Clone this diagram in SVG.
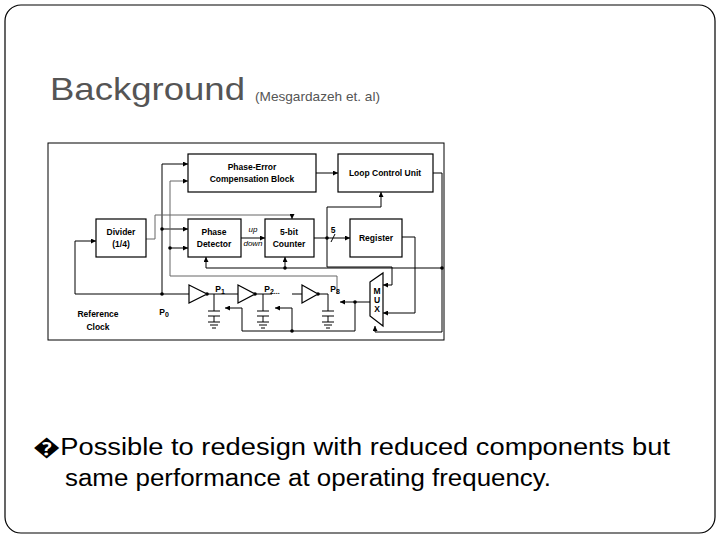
<svg xmlns="http://www.w3.org/2000/svg" width="720" height="540" viewBox="0 0 720 540">
<defs>
<marker id="a" viewBox="0 0 10 10" refX="10" refY="5" markerWidth="5" markerHeight="5" orient="auto"><path d="M0,0L10,5L0,10z" fill="#000"/></marker>
<style>
.b{fill:#fff;stroke:#000;stroke-width:1.2}
.t{font-family:"Liberation Sans",Arial,sans-serif;font-weight:bold;font-size:8.5px;text-anchor:middle}
.l{fill:none;stroke:#000;stroke-width:1}
.g{fill:none;stroke:#666;stroke-width:1}
.ar{marker-end:url(#a)}
</style>
</defs>
<rect x="5" y="5" width="710" height="528" rx="16" fill="#fff" stroke="#000" stroke-width="1.2"/>
<text x="50" y="100" font-family="Liberation Sans,Arial,sans-serif" font-size="32" fill="#555" textLength="195" lengthAdjust="spacingAndGlyphs">Background</text>
<text x="255" y="101" font-family="Liberation Sans,Arial,sans-serif" font-size="13" fill="#555" textLength="125" lengthAdjust="spacingAndGlyphs">(Mesgardazeh et. al)</text>
<text x="33" y="455" font-family="Liberation Sans,Arial,sans-serif" font-size="23" fill="#000" textLength="637" lengthAdjust="spacingAndGlyphs">�Possible to redesign  with reduced components but</text>
<text x="65" y="486" font-family="Liberation Sans,Arial,sans-serif" font-size="23" fill="#000" textLength="486" lengthAdjust="spacingAndGlyphs">same performance at operating frequency.</text>
<rect x="48" y="143" width="396" height="197" fill="#fff" stroke="#000" stroke-width="1"/>
<g id="connectors">
<path class="l ar" d="M75,294V241H96"/>
<path class="l" d="M75,294H189"/>
<path class="l ar" d="M162,294V164H188"/>
<path class="l ar" d="M162,229H188"/>
<path class="g ar" d="M337,294V276H170V181H188"/>
<path class="l ar" d="M170,248H188"/>
<path class="g ar" d="M146,239H155V215H292V219"/>
<path class="l ar" d="M241,238H265"/>
<path class="l ar" d="M316,173H338"/>
<path class="l ar" d="M314,238H350"/>
<path class="l" d="M331,242L335,234"/>
<path class="l ar" d="M327,238V207H381V192"/>
<path class="l ar" d="M327,238V267H392V285H383"/>
<path class="l ar" d="M433,173H442V332H375V326"/>
<path class="l ar" d="M442,268H206V257"/>
<path class="l ar" d="M285,268V257"/>
<path class="l ar" d="M402,237H415V313H383"/>
<path class="l ar" d="M370,302H340"/>
<path class="l ar" d="M355,302V331H242V308H225"/>
<path class="l ar" d="M292,331V308H275"/>
<path class="l" d="M207,294H238M255,294H272M292,294H302M318,294H328"/>
<path class="l" d="M214,294V311M208,311H220M208,316H220M214,316V322M208,322H220M210,325H218M212,328H216"/>
<path class="l" d="M263,294V311M257,311H269M257,316H269M263,316V322M257,322H269M259,325H267M261,328H265"/>
<path class="l" d="M328,294V311M322,311H334M322,316H334M328,316V322M322,322H334M324,325H332M326,328H330"/>
<g fill="#000"><circle cx="162" cy="294" r="1.8"/><circle cx="162" cy="229" r="1.8"/><circle cx="170" cy="248" r="1.8"/><circle cx="327" cy="238" r="1.8"/><circle cx="442" cy="268" r="1.8"/><circle cx="285" cy="268" r="1.8"/><circle cx="355" cy="302" r="1.8"/><circle cx="292" cy="331" r="1.8"/><circle cx="207" cy="294" r="1.8"/><circle cx="255" cy="294" r="1.8"/><circle cx="318" cy="294" r="1.8"/></g>
</g>
<g id="pec"><rect class="b" x="188" y="154" width="128" height="38"/><text class="t" x="252" y="170" font-size="9">Phase-Error</text><text class="t" x="252" y="182" font-size="9">Compensation Block</text></g>
<g id="lcu"><rect class="b" x="338" y="154" width="95" height="38"/><text class="t" x="385" y="176" font-size="9">Loop Control Unit</text></g>
<g id="divider"><rect class="b" x="96" y="219" width="50" height="38"/><text class="t" x="121" y="235" font-size="9">Divider</text><text class="t" x="121" y="247" font-size="9">(1/4)</text></g>
<g id="pd"><rect class="b" x="188" y="219" width="53" height="38"/><text class="t" x="214" y="235" font-size="9">Phase</text><text class="t" x="214" y="247" font-size="9">Detector</text></g>
<g id="counter"><rect class="b" x="265" y="219" width="49" height="38"/><text class="t" x="289" y="235" font-size="9">5-bit</text><text class="t" x="289" y="247" font-size="9">Counter</text></g>
<g id="register"><rect class="b" x="350" y="219" width="52" height="38"/><text class="t" x="376" y="241" font-size="9">Register</text></g>
<g id="mux"><path class="b" d="M370,282L383,273V326L370,316Z"/><text class="t" x="377" y="294" font-size="6.5">M</text><text class="t" x="377" y="303" font-size="6.5">U</text><text class="t" x="377" y="312" font-size="6.5">X</text></g>
<g id="buffers"><path class="b" d="M189,285L207,294L189,303Z"/><path class="b" d="M238,285L255,294L238,303Z"/><path class="b" d="M302,285L318,294L302,303Z"/></g>
<g font-family="Liberation Sans,Arial,sans-serif" font-size="8" font-style="italic" text-anchor="middle"><text x="253" y="232">up</text><text x="253" y="246">down</text></g>
<g>
<text class="t" x="333" y="233">5</text>
<text class="t" x="220" y="292" font-size="10.5">P<tspan font-size="7" dy="2">1</tspan></text>
<text class="t" x="272" y="292" font-size="10.5">P<tspan font-size="7" dy="2">2...</tspan></text>
<text class="t" x="335" y="292" font-size="10.5">P<tspan font-size="7" dy="2">8</tspan></text>
<text class="t" x="164" y="315" font-size="10.5">P<tspan font-size="7" dy="2">0</tspan></text>
<text class="t" x="98" y="317" font-size="9">Reference</text>
<text class="t" x="98" y="330" font-size="9">Clock</text>
</g>
</svg>
